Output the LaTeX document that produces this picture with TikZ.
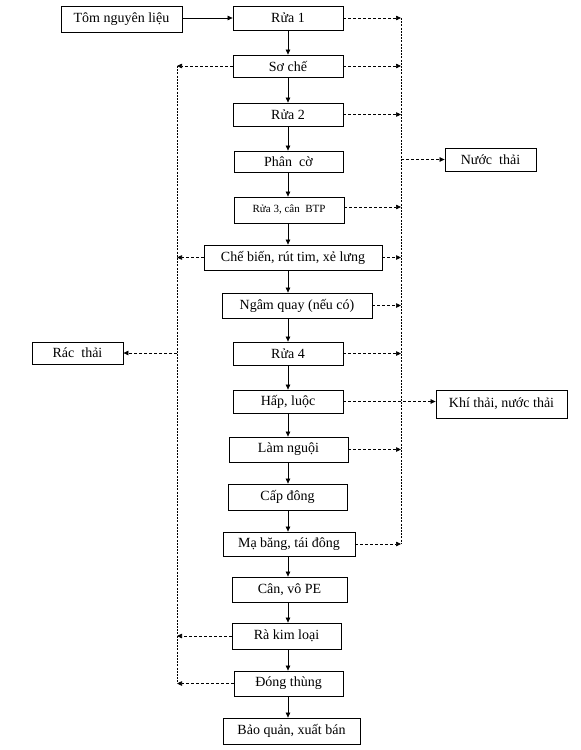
\documentclass[tikz,border=0pt]{standalone}
\usepackage{fontspec}
\setmainfont{Liberation Serif}
\usetikzlibrary{arrows.meta}
\tikzset{
  box/.style={draw, line width=0.8pt, inner sep=0pt, align=center, font=\fontsize{14}{16}\selectfont},
  flow/.style={line width=0.7pt, -{Triangle[length=5pt,width=4.5pt]}},
  waste/.style={line width=0.7pt, dash pattern=on 3pt off 2pt, -{Triangle[length=5pt,width=4.5pt]}},
  wline/.style={line width=0.8pt, dash pattern=on 2pt off 1.2pt},
}
\newcommand{\bx}[6]{\node[box, minimum width=#4pt, minimum height=#5pt] (#1) at (#2,#3) {#6};}
\begin{document}
\begin{tikzpicture}[x=1pt,y=-1pt]
\useasboundingbox (0,0) rectangle (581,750);
% main column
\bx{tom}{121.5}{19}{121}{26}{Tôm nguyên liệu}
\bx{rua1}{288}{18}{110}{24}{Rửa 1}
\bx{soche}{288}{66}{110}{22}{Sơ chế}
\bx{rua2}{288}{114.5}{110}{23}{Rửa 2}
\bx{phanco}{288.5}{161.5}{109}{21}{Phân\ \ cờ}
\node[box, minimum width=110pt, minimum height=26pt, font=\fontsize{11}{12}\selectfont] (rua3) at (289,210) {Rửa 3, cân\ \ BTP};
\bx{chebien}{293}{257.5}{178}{25}{Chế\ biến,\ rút\ tim,\ xẻ\ lưng}
\bx{ngam}{297}{305.5}{150}{25}{Ngâm\ quay\ (nếu\ có)}
\bx{rua4}{288}{353.5}{110}{23}{Rửa 4}
\bx{hap}{288}{401.5}{110}{23}{Hấp,\ luộc}
\bx{lam}{288.5}{449.5}{119}{25}{Làm\ nguội}
\bx{cap}{287.5}{497}{119}{26}{Cấp\ đông}
\bx{ma}{289}{544}{132}{24}{Mạ\ băng,\ tái\ đông}
\bx{can}{289.5}{589.5}{115}{25}{Cân,\ vô\ PE}
\bx{ra}{286.5}{636}{109}{26}{Rà\ kim\ loại}
\bx{dong}{288.5}{683.5}{109}{25}{Đóng\ thùng}
\bx{bq}{291.5}{731}{137}{26}{Bảo\ quản,\ xuất\ bán}
% outputs
\bx{nuoc}{490.5}{159.5}{91}{23}{Nước\ \ thải}
\bx{rac}{77.5}{353}{91}{22}{Rác\ \ thải}
\bx{khi}{501.5}{404}{131}{28}{Khí\ thải,\ nước\ thải}
% axis and collector lines
\coordinate (ax) at (288,0);
\coordinate (rtop) at (401,18);
\coordinate (rbot) at (401,544);
\coordinate (ltop) at (177,66);
\coordinate (lbot) at (177,683.5);
\draw[wline] (rtop) -- (rbot);
\draw[wline] (ltop) -- (lbot);
% main flow
\draw[flow] (tom.east |- rua1.west) -- (rua1.west);
\foreach \a/\b in {rua1/soche, soche/rua2, rua2/phanco, phanco/rua3, rua3/chebien, chebien/ngam, ngam/rua4, rua4/hap, hap/lam, lam/cap, cap/ma, ma/can, can/ra, ra/dong, dong/bq}
  \draw[flow] (\a.south -| ax) -- (\b.north -| ax);
% waste water to the right
\foreach \a in {rua1, soche, rua2, chebien, ngam, rua4, lam, ma}
  \draw[waste] (\a.east) -- (\a.east -| rtop);
\draw[waste] (rua3.east |- 0,207) -- (rtop |- 0,207);
\draw[waste] (rtop |- nuoc.west) -- (nuoc.west);
\draw[waste] (hap.east) -- (khi.west |- hap.east);
% solid waste to the left
\foreach \a in {soche, chebien, ra, dong}
  \draw[waste] (\a.west) -- (\a.west -| ltop);
\draw[waste] (ltop |- rac.east) -- (rac.east);
\end{tikzpicture}
\end{document}
